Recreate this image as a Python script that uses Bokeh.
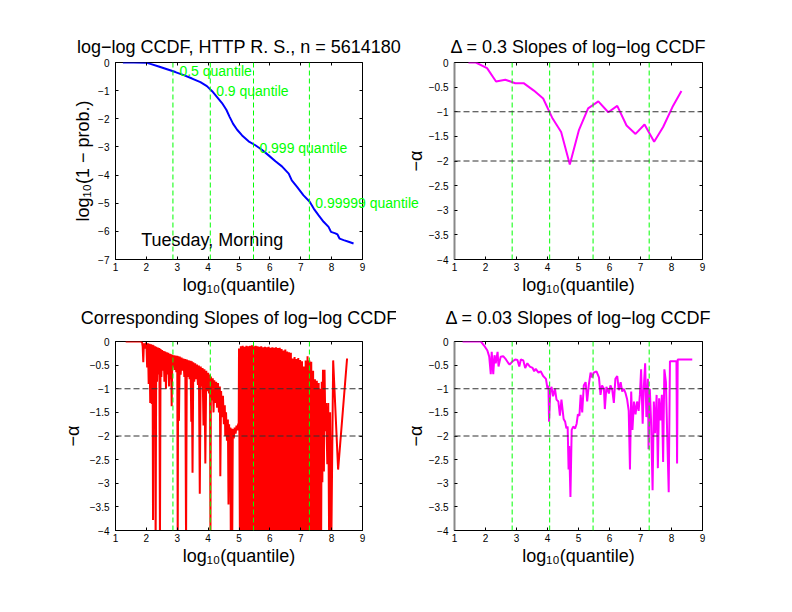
from bokeh.plotting import figure
from bokeh.models import (Label, LinearAxis, FixedTicker, Span, CustomJSTickFormatter,
                          CustomLabelingPolicy)
from bokeh.layouts import column, row
from bokeh.embed import file_html
from bokeh.resources import INLINE

FONT = "Liberation Sans"

# ---------------- data ----------------
x_ticks = [1, 2, 3, 4, 5, 6, 7, 8, 9]
ccdf_y_ticks = [-7, -6, -5, -4, -3, -2, -1, 0]
slope_y_ticks = [-4, -3.5, -3, -2.5, -2, -1.5, -1, -0.5, 0]

quantile_pos = [2.86, 4.07, 5.47, 7.28]
quantile_names = ["0.5 quantile", "0.9 quantile", "0.999 quantile", "0.99999 quantile"]
ref_levels = [-1, -2]

# log-log CCDF (blue)
ccdf_x = [1.24, 1.59, 2.02, 2.13, 2.40, 2.67, 2.94, 3.21, 3.48, 3.75, 3.96, 4.13, 4.29, 4.45, 4.59,
          4.70, 4.81, 4.94, 5.10, 5.31, 5.53, 5.74, 5.96, 6.18, 6.39, 6.61, 6.71, 6.88, 7.09, 7.29,
          7.42, 7.58, 7.74, 7.90, 7.98, 8.12, 8.19, 8.26, 8.39, 8.55, 8.71]
ccdf_y = [0.0, 0.0, -0.01, -0.05, -0.14, -0.24, -0.34, -0.45, -0.57, -0.70, -0.84, -1.02, -1.23, -1.44, -1.68,
          -1.94, -2.18, -2.39, -2.59, -2.80, -2.94, -3.10, -3.30, -3.51, -3.69, -3.95, -4.19, -4.42, -4.72, -4.95,
          -5.19, -5.43, -5.66, -5.84, -6.02, -6.07, -6.11, -6.26, -6.31, -6.37, -6.43]

# Delta = 0.3 slopes (magenta)
d03_x = [1.45, 1.69, 2.05, 2.34, 2.64, 2.96, 3.23, 3.56, 3.86, 4.15, 4.44, 4.72, 5.01, 5.31, 5.64,
         5.96, 6.25, 6.55, 6.84, 7.13, 7.44, 7.73, 8.03, 8.32]
d03_y = [0.0, 0.0, -0.115, -0.385, -0.35, -0.42, -0.42, -0.57, -0.73, -1.12, -1.41, -2.07, -1.38, -0.93, -0.79,
         -1.01, -0.88, -1.28, -1.45, -1.26, -1.61, -1.31, -0.905, -0.58]

# corresponding slopes (red, very dense)
red_x = [1.33, 1.82, 1.86, 1.88, 1.90, 1.92, 1.95, 1.97,
         2.000, 2.025, 2.050, 2.075, 2.100, 2.125, 2.150, 2.175, 2.200, 2.215, 2.230, 2.255, 2.280, 2.300,
         2.320, 2.345, 2.370, 2.395, 2.420, 2.440, 2.460, 2.485, 2.510, 2.535, 2.560, 2.585, 2.610, 2.635,
         2.660, 2.685, 2.710, 2.735, 2.760, 2.785, 2.800, 2.820, 2.840, 2.865, 2.890, 2.915, 2.940,
         2.970, 3.000, 3.015, 3.030, 3.055, 3.080, 3.110, 3.140, 3.170, 3.200, 3.230, 3.260, 3.285, 3.310,
         3.340, 3.370, 3.400, 3.430, 3.455, 3.470, 3.495, 3.520, 3.550, 3.580, 3.610, 3.640, 3.670, 3.700,
         3.730, 3.760, 3.790, 3.820, 3.850, 3.880, 3.910, 3.940, 3.970, 4.000, 4.030, 4.060, 4.075, 4.090,
         4.120, 4.150, 4.175, 4.200, 4.230, 4.260, 4.290, 4.320, 4.350, 4.380, 4.395, 4.420, 4.450, 4.480,
         4.510, 4.540, 4.555, 4.580, 4.610, 4.640, 4.660, 4.680, 4.700, 4.720, 4.735, 4.760, 4.780, 4.800,
         4.830, 4.860, 4.890, 4.920, 4.950, 4.975, 4.990,
         5.00, 5.03, 5.06, 5.09, 5.12, 5.15, 5.18, 5.21, 5.24, 5.27, 5.30, 5.33, 5.36, 5.39, 5.42, 5.45,
         5.48, 5.51, 5.54, 5.57, 5.60, 5.63, 5.66, 5.69, 5.72, 5.75, 5.78, 5.81, 5.84, 5.87, 5.90, 5.93,
         5.96, 5.99, 6.02, 6.05, 6.08, 6.11, 6.14, 6.17, 6.20, 6.23, 6.26, 6.29, 6.32, 6.35, 6.38, 6.41,
         6.44, 6.47, 6.50, 6.53, 6.56, 6.59, 6.62, 6.65, 6.68, 6.71, 6.74, 6.77, 6.80, 6.83, 6.86, 6.89,
         6.92, 6.95, 6.98, 7.01, 7.04, 7.07, 7.10, 7.13, 7.16, 7.19, 7.22, 7.25, 7.28, 7.31, 7.34, 7.37,
         7.40, 7.43, 7.46, 7.49, 7.52, 7.55, 7.58, 7.61, 7.64,
         7.66, 7.68, 7.70, 7.72, 7.75, 7.77, 7.80, 7.82, 7.86, 7.89, 7.92, 7.95, 7.99, 8.05, 8.21, 8.50]
red_y = [0.0, 0.0, -0.02, -0.10, -0.44, -0.04, -0.15, -0.05,
         -0.03, -0.55, -0.04, -0.90, -0.05, -1.30, -0.06, -1.32, -0.07, -3.78, -0.08, -1.10, -0.10, -4.3,
         -0.11, -0.85, -0.13, -0.70, -0.14, -4.3, -0.16, -0.75, -0.18, -0.62, -0.20, -0.85, -0.21, -1.00,
         -0.23, -0.70, -0.24, -0.95, -0.26, -0.80, -0.27, -1.37, -0.28, -0.55, -0.29, -0.60, -0.30,
         -0.65, -0.30, -4.3, -0.31, -1.68, -0.32, -0.70, -0.34, -0.62, -0.36, -0.75, -0.37, -4.3, -0.38,
         -0.75, -0.40, -0.80, -0.41, -1.70, -0.42, -2.78, -0.44, -0.85, -0.46, -0.80, -0.49, -0.92, -0.51,
         -3.22, -0.53, -0.95, -0.56, -1.78, -0.59, -2.58, -0.62, -1.05, -0.66, -1.10, -0.70, -4.3, -0.74,
         -1.25, -0.78, -1.50, -0.82, -1.30, -0.85, -1.40, -0.88, -1.50, -0.95, -2.85, -1.05, -1.60, -1.15,
         -1.75, -1.35, -2.00, -1.50, -2.10, -1.65, -3.45, -1.75, -2.95, -1.82, -4.3, -1.84, -4.3, -1.85,
         -2.05, -1.82, -1.95, -1.78, -1.88, -1.74, -1.80,
         -0.15, -4.3, -0.10, -4.3, -0.09, -4.3, -0.11, -4.3, -0.09, -4.3, -0.10, -4.3, -0.09, -4.3, -0.08, -4.3,
         -0.10, -4.3, -0.09, -4.3, -0.10, -4.3, -0.11, -4.3, -0.10, -4.3, -0.12, -4.3, -0.11, -4.3, -0.12, -4.3,
         -0.11, -4.3, -0.13, -4.3, -0.12, -4.3, -0.13, -4.3, -0.12, -4.3, -0.14, -4.3, -0.13, -4.3, -0.16, -4.3,
         -0.19, -4.3, -0.17, -4.3, -0.21, -4.3, -0.23, -4.3, -0.24, -4.3, -0.36, -4.3, -0.33, -4.3, -0.37, -4.3,
         -0.35, -4.3, -0.39, -4.3, -0.42, -4.3, -0.53, -4.3, -0.40, -4.3, -0.31, -4.3, -0.40, -4.3, -0.43, -4.3,
         -0.62, -4.3, -0.80, -4.3, -0.83, -4.3, -0.88, -4.3, -1.00,
         -4.3, -0.85, -2.98, -0.60, -2.75, -0.60, -1.90, -1.30, -2.60, -1.30, -4.3, -1.50, -4.3, -0.40, -2.71, -0.36]

# Delta = 0.03 slopes (magenta, noisy)
d003_x = [1.26, 1.85, 1.96, 2.06, 2.12, 2.17, 2.20, 2.25, 2.29, 2.33, 2.39, 2.42, 2.49, 2.57, 2.66, 2.74,
          2.78, 2.87, 2.96, 3.03, 3.09, 3.14, 3.22, 3.28, 3.35, 3.43, 3.52, 3.57, 3.62, 3.71, 3.78, 3.86,
          3.95, 4.00, 4.03, 4.05, 4.09, 4.13, 4.18, 4.24, 4.29, 4.35, 4.40, 4.45, 4.52, 4.57, 4.61, 4.65,
          4.68, 4.70, 4.74, 4.78, 4.83, 4.89, 4.94, 4.98, 5.03, 5.07, 5.12, 5.17, 5.23, 5.28, 5.33, 5.39,
          5.44, 5.49, 5.58, 5.66, 5.71, 5.76, 5.82, 5.85, 5.90, 5.98, 6.03, 6.09, 6.14, 6.19, 6.25, 6.30,
          6.36, 6.41, 6.46, 6.52, 6.57, 6.62, 6.66, 6.70, 6.74, 6.79, 6.84, 6.89, 6.94, 6.98, 7.02, 7.07,
          7.11, 7.15, 7.19, 7.24, 7.26, 7.30, 7.34, 7.39, 7.43, 7.47, 7.52, 7.56, 7.60, 7.64, 7.69, 7.73,
          7.77, 7.82, 7.86, 7.91, 7.95, 8.16, 8.18, 8.20, 8.67]
d003_y = [0.0, 0.0, -0.09, -0.19, -0.32, -0.69, -0.22, -0.69, -0.29, -0.46, -0.22, -0.53, -0.32, -0.31, -0.38, -0.46,
          -0.49, -0.42, -0.38, -0.39, -0.53, -0.38, -0.40, -0.56, -0.46, -0.53, -0.56, -0.63, -0.58, -0.66, -0.63, -0.73,
          -0.79, -1.00, -0.93, -1.70, -1.06, -0.96, -1.16, -1.00, -1.23, -1.27, -1.57, -1.23, -1.64, -1.70, -1.84, -1.80,
          -2.71, -2.21, -3.29, -1.87, -1.80, -1.84, -1.74, -1.54, -1.57, -1.13, -1.50, -0.93, -0.86, -1.27, -0.93, -0.66,
          -0.76, -0.66, -0.63, -0.76, -1.13, -0.93, -1.00, -1.43, -0.96, -1.10, -0.93, -1.03, -1.30, -0.79, -0.73, -1.03,
          -0.86, -1.06, -1.00, -1.10, -1.23, -1.47, -2.71, -1.06, -1.87, -1.27, -1.54, -1.27, -1.47, -1.13, -0.59, -1.74,
          -0.93, -0.46, -1.60, -0.79, -2.28, -1.00, -1.67, -3.15, -1.27, -1.94, -1.13, -2.68, -1.20, -1.67, -1.13, -2.55,
          -0.59, -0.86, -1.94, -3.19, -0.42, -0.42, -2.58, -0.38, -0.38]

quantile_label_xy = [(3.07, -0.30), (4.26, -1.00), (5.66, -3.03), (7.47, -5.00)]

minus_fmt = "return tick == 0 ? '0' : '\u2212' + Math.abs(tick).toString();"
no_labels = CustomLabelingPolicy(code="return new Set()")


def panel(width, height, left, right, top, bottom, y_lo, y_ticks, title, ylabel, fill,
          left_line="black", left_width=1, ylabel_standoff=3, title_standoff=6):
    p = figure(width=width, height=height, x_range=(1, 9), y_range=(y_lo, 0),
               output_backend="svg", toolbar_location=None,
               min_border_left=left, min_border_right=right,
               min_border_top=top, min_border_bottom=bottom, title=title)
    p.xgrid.visible = False
    p.ygrid.visible = False
    p.outline_line_color = "black"
    p.outline_line_width = 1
    p.background_fill_color = "white"
    p.border_fill_color = fill
    p.title.text_font = FONT
    p.title.text_font_size = "18px"
    p.title.text_font_style = "normal"
    p.title.text_color = "black"
    p.title.align = "center"
    p.title.standoff = title_standoff

    p.xaxis.ticker = FixedTicker(ticks=x_ticks)
    p.yaxis.ticker = FixedTicker(ticks=y_ticks)
    p.yaxis.formatter = CustomJSTickFormatter(code=minus_fmt)
    p.xaxis.axis_label = "log\u2081\u2080(quantile)"
    p.yaxis.axis_label = ylabel
    for ax in [p.xaxis[0], p.yaxis[0]]:
        ax.major_tick_in = 3
        ax.major_tick_out = 0
        ax.minor_tick_line_color = None
        ax.axis_line_color = "black"
        ax.major_tick_line_color = "black"
        ax.major_label_text_font = FONT
        ax.major_label_text_font_size = "10px"
        ax.major_label_text_color = "black"
        ax.axis_label_text_font = FONT
        ax.axis_label_text_font_size = "18px"
        ax.axis_label_text_font_style = "normal"
        ax.axis_label_text_color = "black"
    p.yaxis.axis_line_color = left_line
    p.yaxis.axis_line_width = left_width
    p.xaxis.major_label_standoff = 3
    p.xaxis.axis_label_standoff = 1
    p.yaxis.major_label_standoff = 6
    p.yaxis.axis_label_standoff = ylabel_standoff

    for loc, ticks in (("above", x_ticks), ("right", y_ticks)):
        ax = LinearAxis(ticker=FixedTicker(ticks=ticks), major_label_policy=no_labels,
                        major_label_text_font_size="10px",
                        major_label_standoff=0, major_tick_in=3, major_tick_out=0,
                        minor_tick_line_color=None, axis_line_color=None,
                        major_tick_line_color="black")
        p.add_layout(ax, loc)
    return p


def add_quantile_lines(p):
    for q in quantile_pos:
        p.add_layout(Span(location=q, dimension="height", line_color="#00ff00",
                          line_dash="5 3", line_width=1))


def add_ref_lines(p):
    for lv in ref_levels:
        p.add_layout(Span(location=lv, dimension="width", line_color="#333333",
                          line_dash="6 3", line_width=1))


# top-left: its right border is wide enough to hold the overflowing quantile label;
# the top-right panel (transparent border) is pulled over it with a negative margin.
p1 = panel(492, 302, 115, 130, 62, 43, -7, ccdf_y_ticks,
           "log\u2212log CCDF, HTTP R. S., n = 5614180", "log\u2081\u2080(1 \u2212 prob.)", "white",
           ylabel_standoff=2, title_standoff=-10)
p1.line(ccdf_x, ccdf_y, line_color="#0000ff", line_width=2)
add_quantile_lines(p1)
for i, (name, (lx, ly)) in enumerate(zip(quantile_names, quantile_label_xy)):
    lab = Label(x=lx, y=ly, text=name, text_font=FONT, text_font_size="14px",
                text_color="#00ff00", text_baseline="middle", text_align="left")
    # the last label runs past the frame: a side-panel annotation is not clipped to the frame
    p1.add_layout(lab, "right" if i == len(quantile_names) - 1 else "center")
p1.add_layout(Label(x=1.83, y=-6.31, text="Tuesday, Morning", text_font=FONT,
                    text_font_size="18px", text_color="black", text_baseline="middle",
                    text_align="left"))

# top-right
p2 = panel(396, 302, 58, 90, 62, 43, -4, slope_y_ticks,
           "\u0394 = 0.3 Slopes of log\u2212log CCDF", "\u2212\u03b1", None,
           left_line="#888888", left_width=2, ylabel_standoff=0, title_standoff=-10)
p2.line(d03_x, d03_y, line_color="#ff00ff", line_width=2)
add_quantile_lines(p2)
add_ref_lines(p2)
p2.margin = (0, 0, 0, -96)

# bottom-left
p3 = panel(396, 310, 115, 34, 30, 82, -4, slope_y_ticks,
           "Corresponding Slopes of log\u2212log CCDF", "\u2212\u03b1", "white", ylabel_standoff=4)
p3.line(red_x, red_y, line_color="#ff0000", line_width=2)
add_quantile_lines(p3)
add_ref_lines(p3)

# bottom-right
p4 = panel(396, 310, 58, 90, 30, 82, -4, slope_y_ticks,
           "\u0394 = 0.03 Slopes of log\u2212log CCDF", "\u2212\u03b1", "white",
           left_line="#888888", left_width=2, ylabel_standoff=0)
p4.line(d003_x, d003_y, line_color="#ff00ff", line_width=2)
add_quantile_lines(p4)
add_ref_lines(p4)

layout = column(row(p1, p2), row(p3, p4))

with open("out.html", "w") as f:
    f.write(file_html(layout, INLINE))
